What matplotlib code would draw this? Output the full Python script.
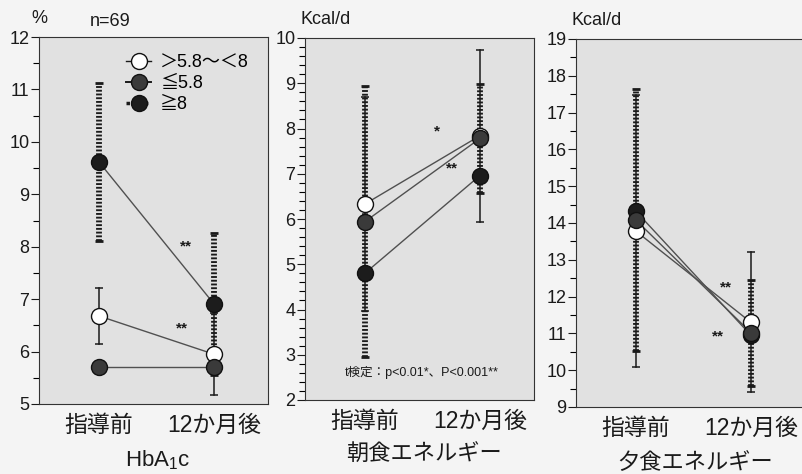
# -*- coding: utf-8 -*-
"""Three small before/after panels: HbA1c, breakfast and dinner energy."""
import matplotlib
matplotlib.use('Agg')
# pylint: disable=wrong-import-position
import matplotlib.pyplot as plt
from matplotlib.lines import Line2D
from matplotlib.ticker import MultipleLocator

plt.rcParams['font.family'] = ['Liberation Sans', 'Noto Sans CJK JP', 'DejaVu Sans']

phases = ['指導前', '12か月後']
groups = ['＞5.8～＜8', '≦5.8', '≧8']

# [pre, post] for each group, in the order of `groups`
hba1c_mean = [[6.68, 5.95], [5.70, 5.70], [9.62, 6.91]]
hba1c_sd = [[0.54, 0.78], [0.10, 0.12], [1.51, 1.36]]

breakfast_mean = [[6.33, 7.84], [5.94, 7.78], [4.80, 6.96]]
breakfast_sd = [[2.36, 1.90], [3.00, 1.21], [0.0, 0.0]]

dinner_mean = [[13.78, 11.30], [14.08, 11.02], [14.32, 10.95]]
dinner_sd = [[3.70, 1.90], [3.57, 1.44], [0.0, 0.0]]

# significance marks: (x, y, text)
hba1c_marks = [(0.76, 8.01, '**'), (0.72, 6.45, '**')]
breakfast_marks = [(0.63, 7.93, '*'), (0.76, 7.11, '**')]
dinner_marks = [(0.78, 12.26, '**'), (0.71, 10.93, '**')]

MARKER_FACE = ['#ffffff', '#3a3a3a', '#1c1c1c']
MARKER_Z = [5, 7, 6]
INK = '#1a1a1a'


def draw_bar(ax, x, mean, sd, style):
    """One error bar, solid thin or thick dotted."""
    lo, hi = mean - sd, mean + sd
    if style == 'dotted':
        ax.plot([x, x], [lo, hi], color=INK, lw=4.2,
                linestyle=(0, (0.32, 0.32)), dash_capstyle='butt', zorder=2)
        ax.plot([x, x], [lo, hi], ls='none', marker='_', ms=6, mew=2.0,
                color=INK, zorder=2)
    else:
        ax.plot([x, x], [lo, hi], color=INK, lw=1.1, zorder=3)
        ax.plot([x, x], [lo, hi], ls='none', marker='_', ms=6, mew=1.1,
                color=INK, zorder=3)


def draw_panel(ax, means, sds, styles, ylim, minor, unit, title, marks):
    """Draw a single before/after panel."""
    ax.set_facecolor('#e1e1e1')
    xs = [0, 1]
    for g in range(len(groups)):
        for i in range(2):
            if sds[g][i] > 0:
                draw_bar(ax, xs[i], means[g][i], sds[g][i], styles[g])
    for g in range(len(groups)):
        ax.plot(xs, means[g], color='#505050', lw=1.0, zorder=4)
    for g in range(len(groups)):
        ax.plot(xs, means[g], ls='none', marker='o', ms=11.5,
                mfc=MARKER_FACE[g], mec='#111111', mew=1.0, zorder=MARKER_Z[g])
    for x, y, t in marks:
        ax.text(x, y, t, fontsize=11, fontweight='bold', ha='center',
                va='center', color=INK)

    ax.set_xlim(-0.52, 1.47)
    ax.set_ylim(*ylim)
    ax.set_xticks(xs)
    ax.set_xticklabels(phases)
    ax.yaxis.set_major_locator(MultipleLocator(1))
    ax.yaxis.set_minor_locator(MultipleLocator(minor))
    ax.tick_params(axis='x', length=0, pad=7, labelsize=16.5, colors=INK)
    ax.tick_params(axis='y', which='major', length=6, width=0.8, pad=1,
                   labelsize=13, colors=INK)
    ax.tick_params(axis='y', which='minor', length=4, width=0.8)
    for sp in ax.spines.values():
        sp.set_color('#333333')
        sp.set_linewidth(0.8)
    ax.text(0.0, 1.05, unit, transform=ax.transAxes, fontsize=13,
            ha='center', va='center', color=INK)
    ax.text(0.52, -0.153, title, transform=ax.transAxes, fontsize=16,
            ha='center', va='center', color=INK)


def main():
    """main."""
    fig = plt.figure(figsize=(8.03, 4.74), dpi=100, facecolor='#f4f4f4')
    h = 474.0
    w = 803.0
    ax1 = fig.add_axes([39 / w, 1 - 404 / h, 229 / w, 367 / h])
    ax2 = fig.add_axes([305 / w, 1 - 400 / h, 229 / w, 362 / h])
    ax3 = fig.add_axes([576 / w, 1 - 407 / h, 229 / w, 368 / h])

    draw_panel(ax1, hba1c_mean, hba1c_sd, ['solid', 'solid', 'dotted'],
               (5, 12), 0.5, '%', r'HbA$_{\mathregular{1}}$c', hba1c_marks)
    draw_panel(ax2, breakfast_mean, breakfast_sd, ['solid', 'dotted', 'solid'],
               (2, 10), 0.2, 'Kcal/d', '朝食エネルギー', breakfast_marks)
    draw_panel(ax3, dinner_mean, dinner_sd, ['solid', 'dotted', 'solid'],
               (9, 19), 0.5, 'Kcal/d', '夕食エネルギー', dinner_marks)

    # unit labels sit a bit to the right of the axis
    ax2.texts[-2].set_x(0.09)
    ax3.texts[-2].set_x(0.09)
    ax1.text(0.31, 1.043, 'n=69', transform=ax1.transAxes, fontsize=13,
             ha='center', va='center', color=INK)
    ax2.text(0.51, 0.075, 't検定：p<0.01*、P<0.001**', transform=ax2.transAxes,
             fontsize=9, ha='center', va='center', color=INK)

    handles = [
        Line2D([], [], color=INK, lw=1.0, marker='o', ms=11.5,
               mfc=MARKER_FACE[0], mec='#111111'),
        Line2D([], [], color=INK, lw=1.4, marker='o', ms=11.5,
               mfc=MARKER_FACE[1], mec='#111111'),
        Line2D([], [], color=INK, lw=2.5, ls=':', marker='o', ms=11.5,
               mfc=MARKER_FACE[2], mec='#111111'),
    ]
    ax1.legend(handles, groups, loc='upper left', bbox_to_anchor=(0.38, 0.952),
               frameon=False, fontsize=13, handlelength=1.4,
               handletextpad=0.5, labelspacing=0.2, borderpad=0,
               borderaxespad=0)

    fig.savefig('out.png', dpi=100, facecolor=fig.get_facecolor())


if __name__ == '__main__':
    main()

# EOF
